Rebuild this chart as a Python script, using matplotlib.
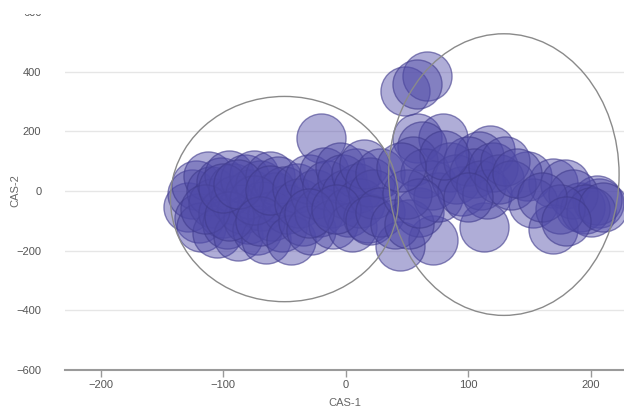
import matplotlib.pyplot as plt
from matplotlib.patches import Ellipse, Rectangle

plt.rcParams['font.family'] = ['Liberation Sans', 'DejaVu Sans']

# canonical scores, first cluster
cas1_a = [-129, -125, -122, -120, -118, -112, -110, -108, -105, -102, -100, -97, -95, -92,
          -90, -88, -85, -82, -80, -78, -75, -72, -70, -68, -65, -62, -60, -58, -55, -52,
          -50, -48, -115, -95, -75, -100, -88, -70, -62, -45,
          -20, -40, -38, -35, -30, -28, -25, -22, -18, -15, -12, -10, -5, -3, 0, 2, 5,
          8, 10, 12, 15, 18, 20, 22, -30, -8, 28, 20]
cas2_a = [-52, -10, 20, -90, -120, 50, 0, -40, -140, 30, -75, -110, 55, 10,
          -30, -150, -60, 40, -95, -10, 55, -130, 20, -50, -160, 50, -85, -20, 35, -120,
          0, -60, -60, -85, -30, 10, 25, -100, 5, -165,
          176, 10, -40, -100, 40, -130, -10, -70, 65, 20, -40, -110, 80, 40, -10, -70, -120,
          60, 10, -40, 90, -90, 30, -10, -75, -60, 60, -96]

# canonical scores, second cluster
cas1_b = [48, 66, 58, 58, 79, 62, 118, 109, 148, 169, 179, 153, 191, 207, 205, 169, 113,
          71, 44, 28, 60, 40, 52, 55, 65, 70, 75, 85, 90, 95, 100, 105, 110, 115, 120,
          125, 130, 135, 140, 100, 80, 50, 60, 45, 185, 195, 200, 175, 160, 210, 180]
cas2_b = [334, 384, 360, 179, 179, 150, 139, 116, 49, 28, 22, -39, -52, -39, -29, -129, -119,
          -163, -186, -72, -72, -110, -112, 100, 60, 20, -20, 80, 40, 0, 100, 60, 20, -10, 80,
          40, 100, 20, 60, -20, 120, -10, -40, 80, -10, -60, -70, -60, -20, -55, -100]

ellipse_centers = [(-50, -27), (129, 55)]
ellipse_sizes = [(186, 688), (188, 944)]

fig = plt.figure(figsize=(6.24, 4.11), dpi=100)
ax = fig.add_axes([65 / 624, 41 / 411, 559 / 624, 358 / 411])

face = (0.31, 0.29, 0.66, 0.45)
edge = (0.25, 0.23, 0.55, 0.6)
for xs, ys in [(cas1_a, cas2_a), (cas1_b, cas2_b)]:
    ax.scatter(xs, ys, s=1250, c=[face], edgecolors=[edge], linewidths=1, zorder=3)

for (cx, cy), (w, h) in zip(ellipse_centers, ellipse_sizes):
    ax.add_patch(Ellipse((cx, cy), w, h, fill=False, edgecolor='#8a8a8a', lw=1, zorder=4))

ax.set_xlim(-229, 227)
ax.set_ylim(-600, 600)
ax.set_xticks([-200, -100, 0, 100, 200])
ax.set_yticks([-600, -400, -200, 0, 200, 400, 600])
ax.grid(axis='y', color='#e6e6e6', lw=1)
ax.set_axisbelow(True)
for side in ['top', 'right', 'left']:
    ax.spines[side].set_visible(False)
ax.spines['bottom'].set_color('#9a9a9a')
ax.spines['bottom'].set_linewidth(1.5)
ax.tick_params(axis='x', colors='#9a9a9a', length=5, width=1, labelcolor='#555555',
               labelsize=8, pad=2)
ax.tick_params(axis='y', length=0, labelcolor='#555555', labelsize=8, pad=17)

ax.set_xlabel('CAS-1', color='#666666', fontsize=8, labelpad=6)
ax.set_ylabel('CAS-2', color='#666666', fontsize=8)
ax.yaxis.set_label_coords(-0.08, 0.5)

# top strip of the page is blank
fig.patches.append(Rectangle((0, 1 - 14.5 / 411), 1, 14.5 / 411, transform=fig.transFigure,
                             facecolor='white', edgecolor='none', zorder=10))

fig.savefig('out.png', dpi=100)
